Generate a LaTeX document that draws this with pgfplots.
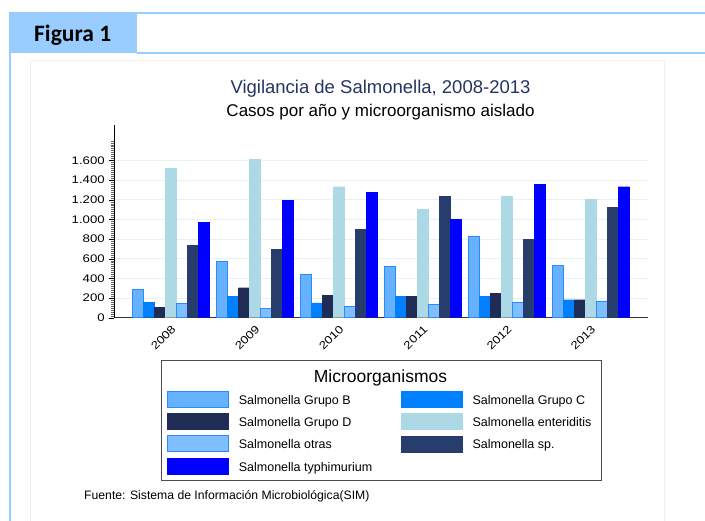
\documentclass[border=0pt]{standalone}
\usepackage{pgfplots}
\usepackage{pgfplotstable}
\pgfplotsset{compat=1.18}
\usepackage{fontspec}
\setmainfont{Liberation Sans}
\newfontfamily\carlito{Carlito}

\definecolor{frameblue}{RGB}{153,204,255}
\definecolor{panelgray}{RGB}{238,240,242}
\definecolor{titlenavy}{RGB}{38,52,100}
\definecolor{gridc}{RGB}{232,240,243}
\definecolor{cB}{RGB}{102,178,255}
\definecolor{cBe}{RGB}{40,140,255}
\definecolor{cC}{RGB}{0,128,255}
\definecolor{cD}{RGB}{31,45,86}
\definecolor{cE}{RGB}{173,216,230}
\definecolor{cO}{RGB}{128,191,255}
\definecolor{cS}{RGB}{38,61,110}
\definecolor{cT}{RGB}{0,0,255}

\pgfplotsset{swatch/.style={legend image code/.code={\draw[##1] (0pt,-6.7pt) rectangle (61pt,9.3pt);}}}

% casos por año
\pgfplotstableread{
x  B   C   D   E    O   S    T
0  288 156 105 1525 149 739  973
1  576 215 305 1614 92  695  1197
2  444 150 224 1332 112 902  1275
3  519 214 214 1102 139 1231 1003
4  831 214 251 1237 159 800  1356
5  529 183 183 1207 170 1122 1332
}\casos

\begin{document}
\begin{tikzpicture}
\path[use as bounding box] (0,0) rectangle (705pt,-521pt);
% marco
\fill[frameblue] (10pt,-13.5pt) rectangle (137pt,-53.5pt);
\draw[frameblue, line width=2pt] (10pt,-521pt) -- (10pt,-13.5pt) -- (705pt,-13.5pt);
\draw[frameblue, line width=2pt] (137pt,-53.5pt) -- (705pt,-53.5pt);
\node[font=\carlito\bfseries\fontsize{23.5}{26}\selectfont, anchor=west, inner sep=0pt] at (34pt,-35pt) {Figura 1};
\draw[panelgray] (30.5pt,-521pt) -- (30.5pt,-60.5pt) -- (664pt,-60.5pt) -- (664pt,-521pt);
% titulos
\node[font=\fontsize{18.5}{21}\selectfont, text=titlenavy] at (380.5pt,-89pt) {Vigilancia de Salmonella, 2008-2013};
\node[font=\fontsize{17}{20}\selectfont] at (380.5pt,-112pt) {Casos por año y microorganismo aislado};

\begin{axis}[
    at={(114pt,-317.7pt)}, anchor=south west,
    scale only axis, width=534pt, height=192.7pt,
    ybar=0pt, bar width=11pt,
    xmin=-0.68, xmax=5.68, ymin=0, ymax=1960,
    axis x line*=bottom, axis y line*=left,
    x axis line style={draw=black!80, line width=1pt},
    y axis line style={draw=black, line width=0.8pt},
    xtick={0,...,5},
    xticklabels={2008,2009,2010,2011,2012,2013},
    x tick style={draw=none},
    x tick label style={rotate=45, xscale=1.2, anchor=north east, font=\fontsize{11}{13}\selectfont, inner sep=1pt},
    ytick={0,200,...,1600},
    yticklabels={0,200,400,600,800,1.000,1.200,1.400,1.600},
    y tick label style={font=\fontsize{11}{13}\selectfont, xscale=1.2},
    minor ytick={0,20,...,1800},
    tick align=outside,
    major tick length=5pt, minor tick length=3pt,
    y tick style={black},
    minor y tick style={black!60, line width=0.3pt},
    ymajorgrids, grid style={gridc, line width=1pt},
    legend columns=2,
    legend cell align=left,
    legend style={draw=none, fill=none, inner sep=0pt, outer sep=0pt,
        at={(0.0993,-0.380)}, anchor=north west,
        row sep=5.6pt, column sep=0pt,
        nodes={inner sep=0pt, font=\fontsize{12.5}{14}\selectfont},
        /tikz/every odd column/.append style={column sep=10pt},
        /tikz/every even column/.append style={column sep=29pt}},
]
\addplot[fill=cB, draw=cBe, line width=0.8pt, swatch] table[x=x, y=B] {\casos};
\addplot[fill=cC, draw=cC, swatch] table[x=x, y=C] {\casos};
\addplot[fill=cD, draw=cD, swatch] table[x=x, y=D] {\casos};
\addplot[fill=cE, draw=cE, swatch] table[x=x, y=E] {\casos};
\addplot[fill=cO, draw=cBe, line width=0.8pt, swatch] table[x=x, y=O] {\casos};
\addplot[fill=cS, draw=cS, swatch] table[x=x, y=S] {\casos};
\addplot[fill=cT, draw=cT, swatch] table[x=x, y=T] {\casos};
\legend{Salmonella Grupo B, Salmonella Grupo C, Salmonella Grupo D, Salmonella enteriditis, Salmonella otras, Salmonella sp., Salmonella typhimurium}
\end{axis}

% recuadro de la leyenda
\draw[black!70, line width=1pt] (161pt,-361pt) rectangle (601pt,-481pt);
\node[font=\fontsize{17.5}{20}\selectfont] at (380.5pt,-378pt) {Microorganismos};
% fuente
\node[font=\fontsize{12.2}{14}\selectfont, anchor=west, inner sep=0pt] at (84pt,-496pt) {Fuente: Sistema de Información Microbiológica(SIM)};
\end{tikzpicture}
\end{document}
